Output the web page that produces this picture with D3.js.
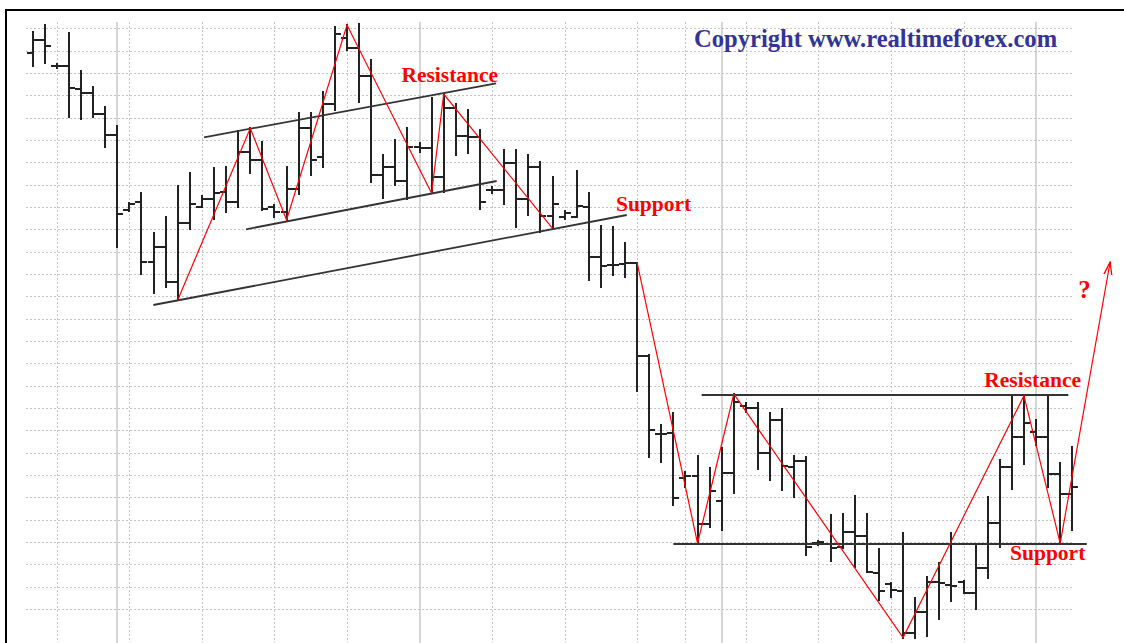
<!DOCTYPE html>
<html>
<head>
<meta charset="utf-8">
<script src="https://cdn.jsdelivr.net/npm/d3@7"></script>
<style>
  body { margin: 0; background: #fff; }
  svg { display: block; }
  .grid-dot { stroke: #c4c4c4; stroke-width: 1; stroke-dasharray: 2,2; shape-rendering: crispEdges; }
  .grid-solid { stroke: #c8c8c8; stroke-width: 1.5; }
  .bar line { stroke: #222; stroke-width: 2; shape-rendering: crispEdges; }
  .trend { stroke: #333; stroke-width: 1.8; }
  .zigzag { stroke: #ff0000; stroke-width: 1.2; fill: none; }
  .label { font-family: "Liberation Serif", "Times New Roman", serif; font-weight: bold; fill: #ff0000; font-size: 21.5px; }
  .label.q { font-size: 25px; }
  .copyright { font-family: "Liberation Serif", "Times New Roman", serif; font-weight: bold; fill: #333399; font-size: 24.6px; }
</style>
</head>
<body>
<svg id="chart"></svg>
<script>
// price values are pips above the chart floor, one entry per bar (bar index = position)
const opens = [587.3, 600, 573.5, 574.3, 550.7, 546.7, 526, 505, 430, 438.3,
  378.3, 393.3, 358.3, 417.3, 432.7, 441, 448.3, 437.7, 488.3, 480,
  432.7, 428, 450.7, 512.3, 483, 535.7, 601.7, 591.7, 564, 465,
  473.3, 459, 493.3, 492, 463.3, 532.3, 504.3, 503.3, 450, 450,
  477.3, 440.7, 473.3, 424.3, 423, 423.3, 432.7, 383.3, 375, 376,
  376.7, 284.3, 206, 206.7, 162, 164.3, 116, 139.3, 166.7, 234,
  231.7, 187.3, 220, 173.3, 179, 97, 96, 93.3, 107.7, 104,
  66.7, 56, 49.3, 7.5, 28.3, 58.3, 54.7, 58.3, 47.3, 71.7,
  117.3, 172.7, 202.7, 208.3, 202.7, 166, 146];
const highs = [607.7, 615, 576, 606.7, 569, 552.7, 533.3, 514, 437.3, 447.3,
  407.3, 422.7, 454.3, 466.7, 444, 471.7, 473.3, 509.3, 511.7, 498.3,
  435, 473.3, 527.3, 526.7, 548.3, 613.3, 615, 616, 580, 485,
  500, 511.7, 497, 541.7, 546, 536, 530, 510, 453, 490,
  490, 485, 478, 463.3, 429, 469.3, 447.3, 414, 412.7, 397.3,
  377.3, 285, 215, 226.7, 168, 184, 172.3, 191.7, 246, 237,
  236.7, 226.7, 230.7, 184.5, 183.3, 99.5, 125, 126, 144, 126,
  90.7, 56.7, 106.7, 41.7, 63.3, 76.7, 106.7, 59.3, 95, 142.7,
  180, 243.3, 244.3, 220, 243.3, 177.3, 193.3];
const lows = [574.3, 576.7, 572.5, 523.3, 521, 523.3, 493.3, 393.3, 429.3, 366,
  346.7, 353.3, 340, 410.7, 432.7, 421.3, 428.3, 432.7, 466.7, 430,
  422.7, 420, 445.7, 465, 473.3, 530, 590, 538.3, 458.3, 441.7,
  455, 440.7, 488, 446.7, 448.3, 485, 487, 431, 447, 436,
  413.3, 425, 408.3, 411.7, 420.7, 423.3, 360, 353, 365, 363.5,
  249.3, 182.7, 177.7, 135, 153, 96.7, 113, 110, 147.3, 228,
  170.7, 160, 150, 142.7, 85.5, 95.5, 79.3, 91.7, 73.3, 68.3,
  40, 43.3, 2.5, 2.5, 4, 20.7, 39.3, 46.7, 30.7, 61.7,
  93.3, 150.7, 176, 195, 153.3, 96.7, 110];
const closes = [600, 594.3, 574.3, 551.7, 546.7, 526, 505, 426, 436, 378.3,
  393.3, 358.3, 417.3, 435.7, 441, 447.3, 437.7, 488.3, 480, 430.7,
  428.3, 450.7, 512.3, 480, 535.7, 605.7, 591.7, 564, 465, 473.3,
  459, 493.3, 492, 463.3, 532.3, 504.3, 503.3, 438.3, 450, 477.3,
  440.7, 473.3, 424.3, 436, 427, 434, 383.3, 374, 375, 376.7,
  284.3, 210, 206, 141.7, 164.3, 116, 149, 166.7, 238.3, 231.7,
  187.3, 220, 174, 179, 93.3, 97.7, 91.7, 107.7, 104, 68.3,
  49.3, 50, 7.5, 28, 58.3, 57.3, 54, 47.3, 71.7, 117.3,
  172.7, 202.7, 217.3, 202.7, 166, 146, 152.7];

// grid
const priceLevels = [611.7, 589.4, 567.0, 544.7, 522.4, 500.0, 477.7, 455.4, 433.1, 410.7,
  388.4, 366.1, 343.7, 321.4, 299.1, 276.8, 254.4, 232.1, 209.8, 187.4,
  165.1, 142.8, 120.4, 98.1, 75.8, 53.5, 31.1];
const dayLines = [2, 8, 14, 20, 26, 38, 44, 50, 54, 59, 65, 71, 77];
const monthLines = [7, 32, 57, 83];

// annotations: [bar index, price]
const channelTop = [[14.17, 502.7], [38.33, 556.7]];
const channelBottom = [[17.65, 410.7], [38.38, 459]];
const longSupport = [[9.98, 335], [49.14, 425]];
const rangeTop = [[55.34, 245], [85.67, 245]];
const rangeBottom = [[53.0, 96], [87.2, 96]];
const zigzagA = [[12, 340], [18, 511.7], [21, 420], [26, 615], [33, 446.7], [34, 546], [43, 411.7]];
const zigzagB = [[50, 377.3], [55, 96.7], [58, 246], [72, 2.5], [82, 244.3], [85, 96.7], [89.13, 378]];
const labels = [
  { text: 'Resistance', i: 30.5, p: 558.3 },
  { text: 'Support', i: 48.25, p: 429.5 },
  { text: 'Resistance', i: 78.72, p: 253.3 },
  { text: 'Support', i: 80.85, p: 80 },
  { text: '?', i: 86.5, p: 342, cls: 'q' }
];
const copyright = 'Copyright www.realtimeforex.com';

const W = 1124, H = 643;
const svg = d3.select('#chart').attr('width', W).attr('height', H);

const x = d3.scaleLinear().domain([0, 86]).range([32.7, 1072.3]);
const y = d3.scaleLinear().domain([0, 640]).range([640, 0]);
const px = v => Math.round(x(v));
const py = v => Math.round(y(v));

// gridlines
const grid = svg.append('g');
grid.selectAll('.h').data(priceLevels).join('line')
  .attr('class', 'grid-dot h')
  .attr('x1', 26).attr('x2', 1072)
  .attr('y1', d => py(d) + 0.5).attr('y2', d => py(d) + 0.5);
grid.selectAll('.v').data(dayLines).join('line')
  .attr('class', 'grid-dot v')
  .attr('x1', d => px(d) + 0.5).attr('x2', d => px(d) + 0.5)
  .attr('y1', 22).attr('y2', H);
grid.selectAll('.m').data(monthLines).join('line')
  .attr('class', 'grid-solid')
  .attr('x1', d => px(d)).attr('x2', d => px(d))
  .attr('y1', 22).attr('y2', H);

// frame
svg.append('line').attr('x1', 5).attr('x2', W).attr('y1', 10).attr('y2', 10)
  .attr('stroke', '#000').attr('stroke-width', 2);
svg.append('line').attr('x1', 6).attr('x2', 6).attr('y1', 9).attr('y2', H)
  .attr('stroke', '#000').attr('stroke-width', 2);

// OHLC bars
const bars = svg.append('g').selectAll('g').data(opens.map((o, i) => ({ i, o, h: highs[i], l: lows[i], c: closes[i] })))
  .join('g').attr('class', 'bar');
bars.append('line')
  .attr('x1', d => px(d.i)).attr('x2', d => px(d.i))
  .attr('y1', d => py(d.h) - 1).attr('y2', d => py(d.l) + 1);
bars.append('line')
  .attr('x1', d => px(d.i) - 6).attr('x2', d => px(d.i))
  .attr('y1', d => py(d.o)).attr('y2', d => py(d.o));
bars.append('line')
  .attr('x1', d => px(d.i)).attr('x2', d => px(d.i) + 6)
  .attr('y1', d => py(d.c)).attr('y2', d => py(d.c));

// trend lines
const lineGen = d3.line().x(d => x(d[0])).y(d => y(d[1]));
svg.append('g').selectAll('path')
  .data([channelTop, channelBottom, longSupport, rangeTop, rangeBottom])
  .join('path').attr('class', 'trend').attr('d', lineGen);

// zigzags
svg.append('defs').append('marker')
  .attr('id', 'arrow').attr('markerUnits', 'userSpaceOnUse')
  .attr('viewBox', '0 0 14 10').attr('markerWidth', 14).attr('markerHeight', 10)
  .attr('refX', 13).attr('refY', 5).attr('orient', 'auto')
  .append('path').attr('d', 'M0,1 L13,5 L0,9')
  .attr('fill', 'none').attr('stroke', '#ff0000').attr('stroke-width', 1.3);
svg.append('path').attr('class', 'zigzag').attr('d', lineGen(zigzagA));
svg.append('path').attr('class', 'zigzag').attr('d', lineGen(zigzagB)).attr('marker-end', 'url(#arrow)');

// labels
svg.append('g').selectAll('text').data(labels).join('text')
  .attr('class', d => 'label ' + (d.cls || ''))
  .attr('x', d => x(d.i)).attr('y', d => y(d.p))
  .text(d => d.text);
svg.append('text').attr('class', 'copyright')
  .attr('x', 694).attr('y', 47).text(copyright);
</script>
</body>
</html>
